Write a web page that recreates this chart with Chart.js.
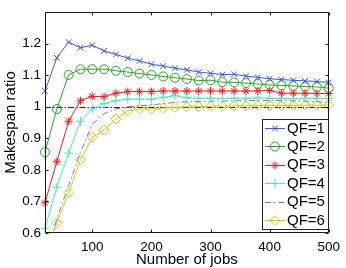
<!DOCTYPE html>
<html>
<head>
<meta charset="utf-8">
<script src="https://cdn.jsdelivr.net/npm/chart.js@4/dist/chart.umd.min.js"></script>
<style>
  html, body { margin: 0; padding: 0; background: #fff; }
  #wrap { width: 346px; height: 268px; position: relative; }
</style>
</head>
<body>
<div id="wrap"><canvas id="c" width="346" height="268"></canvas></div>
<script>
// ---------- data ----------
const jobs = [20, 40, 60, 80, 100, 120, 140, 160, 180, 200, 220, 240, 260, 280, 300, 320, 340, 360, 380, 400, 420, 440, 460, 480, 500];
const qf1 = [1.050, 1.155, 1.205, 1.187, 1.195, 1.177, 1.166, 1.154, 1.145, 1.135, 1.129, 1.122, 1.117, 1.110, 1.106, 1.102, 1.103, 1.097, 1.093, 1.089, 1.086, 1.084, 1.082, 1.080, 1.077];
const qf2 = [0.856, 0.993, 1.101, 1.119, 1.119, 1.119, 1.114, 1.110, 1.105, 1.101, 1.096, 1.092, 1.088, 1.083, 1.084, 1.078, 1.077, 1.075, 1.072, 1.069, 1.068, 1.066, 1.064, 1.063, 1.059];
const qf3 = [0.696, 0.826, 0.954, 1.019, 1.033, 1.032, 1.043, 1.048, 1.048, 1.048, 1.050, 1.050, 1.050, 1.050, 1.050, 1.050, 1.050, 1.050, 1.050, 1.052, 1.043, 1.043, 1.043, 1.042, 1.042];
const qf4 = [0.615, 0.745, 0.853, 0.954, 0.993, 1.010, 1.019, 1.024, 1.024, 1.024, 1.030, 1.035, 1.028, 1.027, 1.027, 1.026, 1.027, 1.027, 1.028, 1.027, 1.027, 1.026, 1.027, 1.027, 1.026];
const qf5 = [0.500, 0.645, 0.750, 0.855, 0.945, 0.978, 0.993, 1.000, 1.003, 1.006, 1.010, 1.014, 1.016, 1.017, 1.018, 1.018, 1.019, 1.019, 1.020, 1.020, 1.020, 1.019, 1.018, 1.016, 1.014];
const qf6 = [0.530, 0.632, 0.727, 0.832, 0.903, 0.926, 0.961, 0.987, 0.993, 0.993, 0.996, 0.998, 1.000, 1.000, 1.002, 1.002, 1.003, 1.003, 1.004, 1.004, 1.004, 1.004, 1.005, 1.005, 1.006];
const seriesLabels = ['QF=1', 'QF=2', 'QF=3', 'QF=4', 'QF=5', 'QF=6'];
const xTicks = [100, 200, 300, 400, 500];
const yTicks = [0.6, 0.7, 0.8, 0.9, 1.0, 1.1, 1.2];
const yTickLabels = ['0.6', '0.7', '0.8', '0.9', '1', '1.1', '1.2'];
const referenceLevel = 1.0;
const xTitle = 'Number of jobs';
const yTitle = 'Makespan ratio';

// ---------- styles ----------
const FONT = '"Liberation Sans", Arial, Helvetica, sans-serif';
const styles = [
  { color: '#3355ff', point: 'crossRot', r: 4, dash: [] },
  { color: '#22aa22', point: 'circle', r: 4.5, dash: [] },
  { color: '#ff1a1a', point: 'star', r: 4, dash: [] },
  { color: '#40f0b0', point: 'cross', r: 4.5, dash: [] },
  { color: '#a155ff', point: false, r: 0, dash: [6, 3, 1.5, 3] },
  { color: '#c2d800', point: 'rectRot', r: 5, dash: [] }
];
const allSeries = [qf1, qf2, qf3, qf4, qf5, qf6];

const datasets = allSeries.map((vals, i) => ({
  label: seriesLabels[i],
  data: vals.map((v, k) => ({ x: jobs[k], y: v })),
  borderColor: styles[i].color,
  backgroundColor: 'rgba(0,0,0,0)',
  borderWidth: 1,
  borderDash: styles[i].dash,
  pointStyle: styles[i].point,
  pointRadius: styles[i].r,
  pointBorderColor: styles[i].color,
  pointBackgroundColor: 'rgba(0,0,0,0)',
  pointBorderWidth: 1,
  tension: 0,
  clip: { left: 8, right: 8, top: 8, bottom: 0 }
}));

const AX = '#1a1a1a';

const framePlugin = {
  id: 'frame',
  beforeDatasetsDraw(chart) {
    const { ctx, chartArea: a, scales } = chart;
    const y = scales.y.getPixelForValue(referenceLevel);
    ctx.save();
    ctx.strokeStyle = '#222';
    ctx.lineWidth = 1;
    ctx.setLineDash([6, 2, 1.5, 2]);
    ctx.beginPath();
    ctx.moveTo(a.left, Math.round(y) + 0.5);
    ctx.lineTo(a.right, Math.round(y) + 0.5);
    ctx.stroke();
    ctx.restore();
  },
  afterDatasetsDraw(chart) {
    const { ctx, chartArea: a, scales } = chart;
    ctx.save();
    ctx.strokeStyle = AX;
    ctx.lineWidth = 1;
    // box
    const L = Math.round(a.left) + 0.5, R = Math.round(a.right) - 0.5;
    const T = Math.round(a.top) + 0.5, B = Math.round(a.bottom) - 0.5;
    ctx.beginPath();
    ctx.moveTo(L, T); ctx.lineTo(R, T); ctx.lineTo(R, B); ctx.lineTo(L, B); ctx.closePath();
    ctx.stroke();
    // inward ticks
    const tl = 3;
    ctx.beginPath();
    xTicks.forEach(v => {
      const px = Math.round(scales.x.getPixelForValue(v)) + 0.5;
      ctx.moveTo(px, B); ctx.lineTo(px, B - tl);
      ctx.moveTo(px, T); ctx.lineTo(px, T + tl);
    });
    yTicks.forEach(v => {
      const py = Math.round(scales.y.getPixelForValue(v)) + 0.5;
      ctx.moveTo(L, py); ctx.lineTo(L + tl, py);
      ctx.moveTo(R, py); ctx.lineTo(R - tl, py);
    });
    ctx.stroke();

    // axis titles
    ctx.fillStyle = '#000';
    ctx.font = '15px ' + FONT;
    ctx.textAlign = 'center';
    ctx.textBaseline = 'middle';
    ctx.fillText(xTitle, (a.left + a.right) / 2, 259.5);
    ctx.save();
    ctx.translate(10.5, (a.top + a.bottom) / 2);
    ctx.rotate(-Math.PI / 2);
    ctx.fillText(yTitle, 0, 0);
    ctx.restore();

    // legend
    const bx = 262.5, by = 119.5, bw = 66, bh = 110;
    ctx.fillStyle = '#fff';
    ctx.fillRect(bx, by, bw, bh);
    ctx.strokeStyle = '#222';
    ctx.strokeRect(bx, by, bw, bh);
    ctx.font = '15px ' + FONT;
    ctx.textAlign = 'left';
    ctx.textBaseline = 'middle';
    chart.data.datasets.forEach((ds, i) => {
      const cy = 128 + i * 18.4;
      ctx.save();
      ctx.strokeStyle = ds.borderColor;
      ctx.lineWidth = 1;
      ctx.setLineDash(ds.borderDash || []);
      ctx.beginPath();
      ctx.moveTo(265, Math.round(cy) + 0.5);
      ctx.lineTo(285, Math.round(cy) + 0.5);
      ctx.stroke();
      ctx.setLineDash([]);
      if (ds.pointStyle) {
        ctx.strokeStyle = ds.pointBorderColor;
        ctx.fillStyle = 'rgba(0,0,0,0)';
        Chart.helpers.drawPoint(ctx, {
          pointStyle: ds.pointStyle, radius: ds.pointRadius, rotation: 0, borderWidth: 1
        }, 275, Math.round(cy) + 0.5);
      }
      ctx.restore();
      ctx.fillStyle = '#000';
      ctx.fillText(ds.label, 287, cy + 0.5);
    });
    ctx.restore();
  }
};

new Chart(document.getElementById('c'), {
  type: 'line',
  data: { datasets },
  options: {
    responsive: false,
    animation: false,
    devicePixelRatio: 1,
    layout: { padding: { top: 12, right: 15, left: 0, bottom: 0 } },
    plugins: { legend: { display: false }, tooltip: { enabled: false } },
    scales: {
      x: {
        type: 'linear',
        min: 20, max: 500,
        grid: { display: false, drawTicks: false },
        border: { display: false },
        ticks: { color: '#000', font: { size: 13.5, family: FONT }, padding: 6, maxRotation: 0 },
        afterBuildTicks: s => { s.ticks = xTicks.map(v => ({ value: v })); },
        afterFit: s => { s.height = 35; }
      },
      y: {
        type: 'linear',
        min: 0.6, max: 1.3,
        grid: { display: false, drawTicks: false },
        border: { display: false },
        ticks: {
          color: '#000', font: { size: 13.5, family: FONT }, padding: 4,
          callback: (v, i) => yTickLabels[i]
        },
        afterBuildTicks: s => { s.ticks = yTicks.map(v => ({ value: v })); },
        afterFit: s => { s.width = 45; }
      }
    }
  },
  plugins: [framePlugin]
});
</script>
</body>
</html>
